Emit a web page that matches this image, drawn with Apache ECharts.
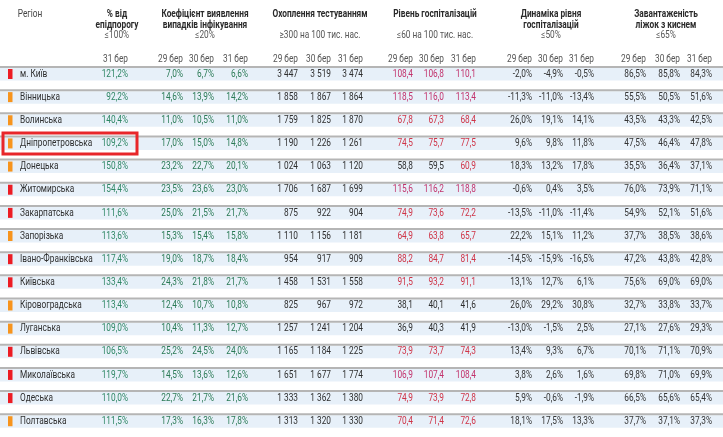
<!DOCTYPE html>
<html>
<head>
<meta charset="utf-8">
<script src="https://cdn.jsdelivr.net/npm/echarts@6/dist/echarts.min.js"></script>
<style>html,body{margin:0;padding:0;background:#fff}#c{width:723px;height:437px}</style>
</head>
<body>
<div id="c"></div>
<script>
const regions = ['м. Київ','Вінницька','Волинська','Дніпропетровська','Донецька','Житомирська','Закарпатська','Запорізька','Івано-Франківська','Київська','Кіровоградська','Луганська','Львівська','Миколаївська','Одеська','Полтавська'];
const zone = ['red','orange','orange','orange','orange','red','red','orange','red','red','orange','orange','red','red','red','orange'];
const highlighted = 'Дніпропетровська';
const epi = [121.2, 92.2, 140.4, 109.2, 150.8, 154.4, 111.6, 113.6, 117.4, 133.4, 113.4, 109.0, 106.5, 119.7, 110.0, 111.5];
const coef29 = [7.0,14.6,11.0,17.0,23.2,23.5,25.0,15.3,19.0,24.3,12.4,10.4,25.2,14.5,22.7,17.3];
const coef30 = [6.7,13.9,10.5,15.0,22.7,23.6,21.5,15.4,18.7,21.8,10.7,11.3,24.5,13.6,21.7,16.3];
const coef31 = [6.6,14.2,11.0,14.8,20.1,23.0,21.7,15.8,18.4,21.7,10.8,12.7,24.0,12.6,21.6,17.8];
const test29 = [3447,1858,1759,1190,1024,1706,875,1110,954,1458,825,1257,1165,1651,1333,1313];
const test30 = [3519,1867,1825,1226,1063,1687,922,1156,917,1531,967,1241,1184,1677,1362,1320];
const test31 = [3474,1864,1870,1261,1120,1699,904,1181,909,1558,972,1204,1225,1774,1380,1330];
const hosp29 = [108.4,118.5,67.8,74.5,58.8,115.6,74.9,64.9,88.2,91.5,38.1,36.9,73.9,106.9,74.9,70.4];
const hosp30 = [106.8,116.0,67.3,75.7,59.5,116.2,73.6,63.8,84.7,93.2,40.1,40.3,73.7,107.4,73.9,71.4];
const hosp31 = [110.1,113.4,68.4,77.5,60.9,118.8,72.2,65.7,81.4,91.1,41.6,41.9,74.3,108.4,72.8,72.6];
const dyn29 = [-2.0,-11.3,26.0,9.6,18.3,-0.6,-13.5,22.2,-14.5,13.1,26.0,-13.0,13.4,3.8,5.9,18.1];
const dyn30 = [-4.9,-11.0,19.1,9.8,13.2,0.4,-11.0,15.1,-15.9,12.7,29.2,-1.5,9.3,2.6,-0.6,17.5];
const dyn31 = [-0.5,-13.4,14.1,11.8,17.8,3.5,-11.4,11.2,-16.5,6.1,30.8,2.5,6.7,1.6,-1.9,13.3];
const beds29 = [86.5,55.5,43.5,47.5,35.5,76.0,54.9,37.7,47.2,75.6,32.7,27.1,70.1,69.8,66.5,37.7];
const beds30 = [85.8,50.5,43.3,46.4,36.4,73.9,52.1,38.5,43.8,69.0,33.8,27.6,71.1,71.0,65.6,37.1];
const beds31 = [84.3,51.6,42.5,47.8,37.1,71.1,51.6,38.6,42.8,69.0,33.7,29.3,70.9,69.9,65.4,37.3];
const dates = ['29 бер','30 бер','31 бер'];
const groupTitles = [['Регіон'],['% від','епідпорогу'],['Коефіцієнт виявлення','випадків інфікування'],['Охоплення тестуванням'],['Рівень госпіталізацій'],['Динаміка рівня','госпіталізацій'],['Завантаженість','ліжок з киснем']];
const thresholds = ['', '≤100%', '≤20%', '≥300 на 100 тис. нас.', '≤60 на 100 тис. нас.', '≤50%', '≤65%'];

// layout (pixel x anchors on a 0..723 value axis)
const GROUP_CX = [30, 117, 205, 320, 435, 551, 666];
const COL_X = [128, 183, 214, 248, 298, 331, 363, 413, 444, 476, 532, 563, 594, 646, 680, 712];
const FONT = 'Roboto,"Noto Sans",sans-serif';
const SX = 0.79;

const fmt1 = v => v.toFixed(1).replace('.', ',');
const pct = v => fmt1(v) + '%';
const thou = v => v >= 1000 ? Math.floor(v / 1000) + ' ' + String(v % 1000).padStart(3, '0') : String(v);
const hospColor = v => v <= 60 ? '#2e2e2e' : (v > 100 ? '#c2326c' : '#cf3346');

const columns = [
  {vals: epi, f: pct, c: () => '#2f8765'},
  {vals: coef29, f: pct, c: () => '#2a7a55'},
  {vals: coef30, f: pct, c: () => '#2a7a55'},
  {vals: coef31, f: pct, c: () => '#2a7a55'},
  {vals: test29, f: thou, c: () => '#2e2e2e'},
  {vals: test30, f: thou, c: () => '#2e2e2e'},
  {vals: test31, f: thou, c: () => '#2e2e2e'},
  {vals: hosp29, f: fmt1, c: hospColor},
  {vals: hosp30, f: fmt1, c: hospColor},
  {vals: hosp31, f: fmt1, c: hospColor},
  {vals: dyn29, f: pct, c: () => '#333333'},
  {vals: dyn30, f: pct, c: () => '#333333'},
  {vals: dyn31, f: pct, c: () => '#333333'},
  {vals: beds29, f: pct, c: () => '#333333'},
  {vals: beds30, f: pct, c: () => '#333333'},
  {vals: beds31, f: pct, c: () => '#333333'}
];

function T(x, y, text, align, fill, weight) {
  return {type: 'text', x: x, y: y, scaleX: SX,
    style: {x: 0, y: 0, text: text, align: align, verticalAlign: 'middle', fill: fill, font: (weight || 'normal') + ' 10.5px ' + FONT}};
}

const chart = echarts.init(document.getElementById('c'), null, {renderer: 'canvas'});

function renderItem(params, api) {
  const idx = api.value(0);
  const y = api.coord([0, idx])[1];
  const W = 723;
  const children = [
    {type: 'rect', shape: {x: 0, y: y - 6, width: W, height: 12.5}, style: {fill: '#e7f0f9'}},
    {type: 'rect', shape: {x: 0, y: y - 8, width: W, height: 2}, style: {fill: '#b5b5b5'}},
    {type: 'rect', shape: {x: 8, y: y - 5, width: 4.5, height: 10}, style: {fill: zone[idx] === 'red' ? '#ec1c24' : '#f7941d'}},
    T(api.coord([20, idx])[0], y, regions[idx], 'left', '#2e2e2e')
  ];
  columns.forEach((col, k) => {
    const x = api.coord([COL_X[k], idx])[0];
    const v = col.vals[idx];
    children.push(T(x, y, col.f(v), 'right', col.c(v)));
  });
  if (regions[idx] === highlighted) {
    children.push({type: 'rect', shape: {x: 3, y: y - 10.5, width: 134, height: 21}, style: {fill: 'none', stroke: '#e8262a', lineWidth: 3}});
  }
  return {type: 'group', children: children};
}

const graphics = [];
groupTitles.forEach((lines, g) => {
  lines.forEach((t, li) => {
    graphics.push(T(GROUP_CX[g], 14 + li * 11, t, 'center', g === 0 ? '#444' : '#2a2a2a', g === 0 ? 'normal' : 'bold'));
  });
  if (thresholds[g]) {
    graphics.push(T(GROUP_CX[g], 35, thresholds[g], 'center', '#555'));
  }
});
COL_X.forEach((x, k) => {
  const label = k === 0 ? dates[2] : dates[(k - 1) % 3];
  graphics.push(T(x, 59, label, 'right', '#555'));
});

chart.setOption({
  animation: false,
  grid: {left: 0, right: 0, top: 62.4, bottom: 4.2},
  xAxis: {type: 'value', min: 0, max: 723, show: false},
  yAxis: {type: 'category', data: regions, inverse: true, show: false},
  graphic: graphics,
  series: [{
    type: 'custom',
    renderItem: renderItem,
    encode: {y: 0},
    data: regions.map((r, i) => [i]),
    silent: true
  }]
});
</script>
</body>
</html>
